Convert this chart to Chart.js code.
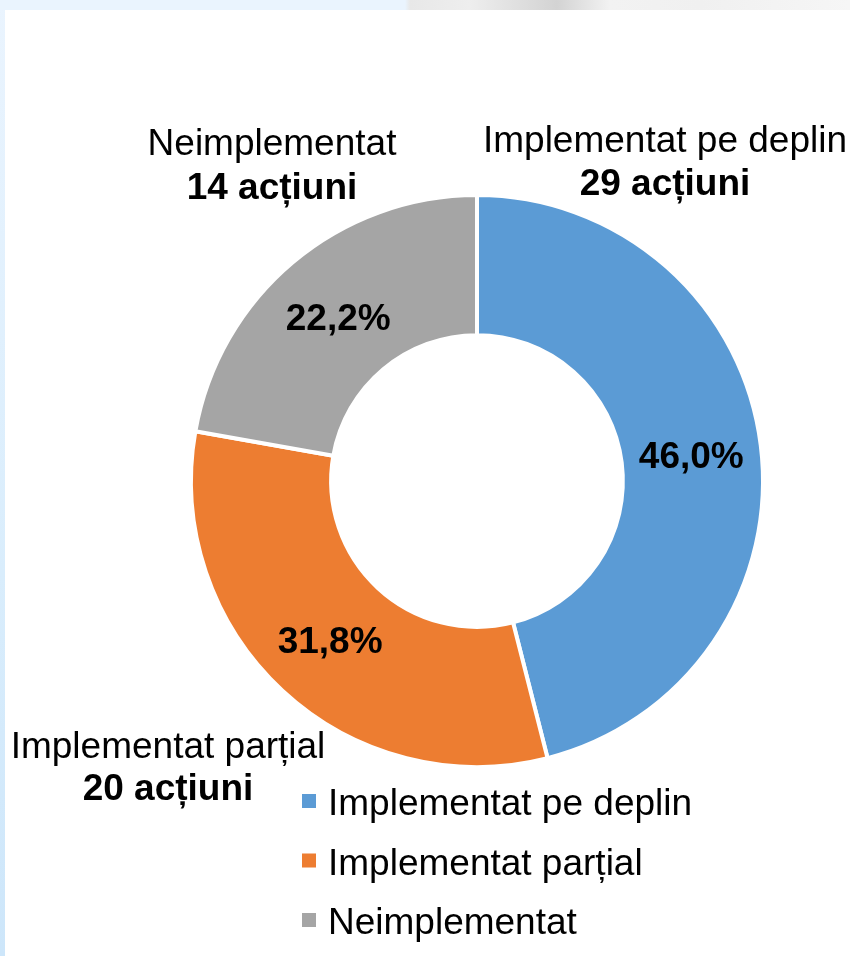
<!DOCTYPE html>
<html>
<head>
<meta charset="utf-8">
<script src="https://cdn.jsdelivr.net/npm/chart.js@4.4.1/dist/chart.umd.min.js"></script>
<style>
  html, body { margin: 0; padding: 0; }
  body {
    width: 850px; height: 956px; overflow: hidden; position: relative;
    background: linear-gradient(180deg, #eaf4fe 0%, #d9edfc 60%, #cde6fa 100%);
  }
  #topband {
    position: absolute; left: 0; top: 0; width: 850px; height: 10px;
    background: linear-gradient(90deg, #eaf4fe 0px, #eaf4fe 405px, #e8e8e8 410px, #eeeeee 470px,
      #d3d3d3 557px, #f2f2f2 610px, #f0f0f0 700px, #f6f6f6 850px);
  }
  #card {
    position: absolute; left: 5px; top: 10px; width: 845px; height: 946px; background: #ffffff;
  }
  #wrap { position: absolute; left: 0; top: 0; width: 850px; height: 956px; }
</style>
</head>
<body>
<div id="topband"></div>
<div id="card"></div>
<div id="wrap"><canvas id="donut" width="850" height="956"></canvas></div>
<script>
// date
const categorii = ['Implementat pe deplin', 'Implementat parțial', 'Neimplementat'];
const actiuni = [29, 20, 14];
const procente = [46.0, 31.8, 22.2]; // asa cum apar in grafic
const culori = ['#5b9bd5', '#ed7d31', '#a5a5a5'];

// pozitia etichetelor exterioare fata de centrul cercului (x, linia 1, linia 2)
const etichetePoz = [
  [188, -329, -286],
  [-309, 277, 319],
  [-205, -326, -282]
];

const FONT = '"Liberation Sans", Arial, sans-serif';

// procente pe felii + etichete exterioare
const eticheteFelii = {
  id: 'eticheteFelii',
  afterDatasetsDraw(chart) {
    const ctx = chart.ctx;
    const meta = chart.getDatasetMeta(0);
    ctx.save();
    ctx.fillStyle = '#000';
    meta.data.forEach((arc, i) => {
      const p = arc.tooltipPosition();
      const proc = procente[i].toFixed(1).replace('.', ',') + '%';
      ctx.font = 'bold 37px ' + FONT;
      ctx.textAlign = 'center';
      ctx.textBaseline = 'alphabetic';
      ctx.fillText(proc, p.x, p.y + 14);

      const cx = arc.x, cy = arc.y;
      const [dx, y1, y2] = etichetePoz[i];
      ctx.font = '37px ' + FONT;
      ctx.fillText(categorii[i], cx + dx, cy + y1);
      ctx.font = 'bold 37px ' + FONT;
      ctx.fillText(actiuni[i] + ' acțiuni', cx + dx, cy + y2);
    });
    ctx.restore();
  }
};

// legenda verticala, aliniata la stanga
const legendaJos = {
  id: 'legendaJos',
  afterDraw(chart) {
    const ctx = chart.ctx;
    ctx.save();
    ctx.font = '37px ' + FONT;
    ctx.textAlign = 'left';
    ctx.textBaseline = 'alphabetic';
    categorii.forEach((c, i) => {
      const y = 794 + i * 59.5;
      ctx.fillStyle = culori[i];
      ctx.fillRect(302, y, 14, 14);
      ctx.fillStyle = '#000';
      ctx.fillText(c, 328, y + 21);
    });
    ctx.restore();
  }
};

new Chart(document.getElementById('donut').getContext('2d'), {
  type: 'doughnut',
  data: {
    labels: categorii,
    datasets: [{
      data: actiuni,
      backgroundColor: culori,
      borderColor: '#ffffff',
      borderWidth: 4
    }]
  },
  options: {
    responsive: false,
    animation: false,
    cutout: '51%',
    layout: {
      padding: { left: 189, top: 193, right: 85, bottom: 187 }
    },
    plugins: {
      legend: { display: false },
      tooltip: { enabled: false }
    }
  },
  plugins: [eticheteFelii, legendaJos]
});
</script>
</body>
</html>
